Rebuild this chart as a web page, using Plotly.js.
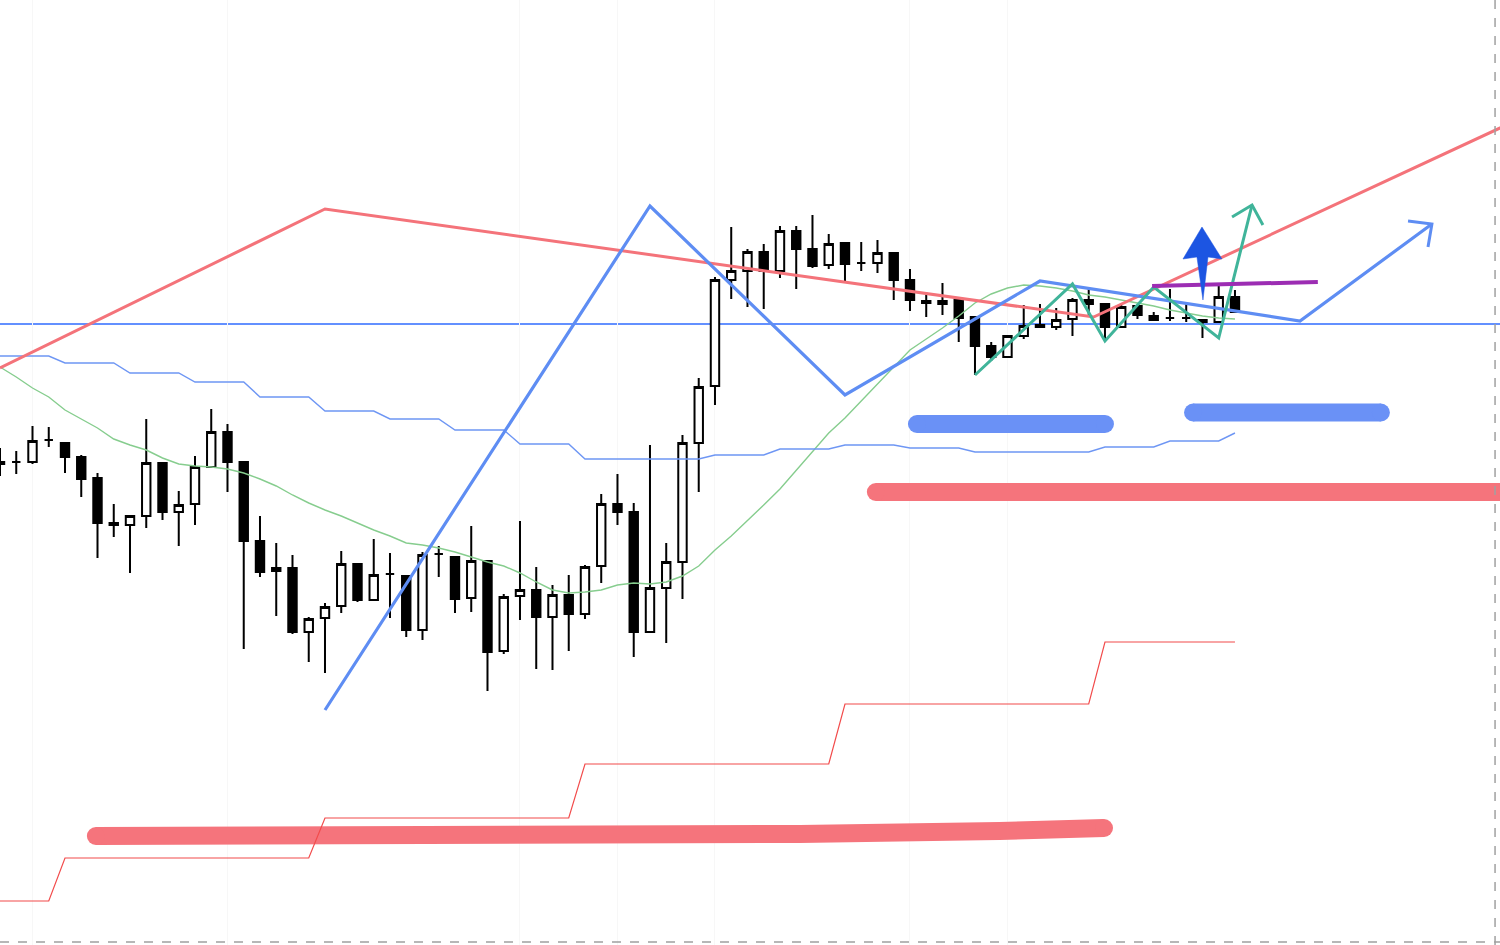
<!DOCTYPE html>
<html><head><meta charset="utf-8">
<script src="https://cdn.plot.ly/plotly-3.0.1.min.js"></script>
<style>html,body{margin:0;padding:0;background:#fff}#chart{width:1500px;height:945px}</style>
</head><body><div id="chart"></div>
<script>
// Candle positions (bar number)
const bars = Array.from({length: 77}, (_, i) => i);

const openP  = [155.38,155.38,155.38,155.60,155.57,155.43,155.22,154.77,154.75,154.84,155.37,154.88,154.96,155.33,155.68,155.38,154.59,154.29,154.32,153.68,153.82,153.94,154.36,154.00,154.26,154.24,153.70,154.46,154.43,154.02,154.39,153.49,154.04,154.10,153.83,154.05,153.86,154.34,154.96,154.88,153.68,154.12,154.38,155.57,156.14,157.20,157.29,157.48,157.29,157.69,157.51,157.35,157.57,157.37,157.37,157.47,157.20,156.99,156.96,157.00,156.83,156.54,156.43,156.64,156.75,156.73,156.81,157.00,156.96,156.73,156.94,156.84,156.82,156.82,156.80,156.78,157.03];
const highP  = [155.52,155.49,155.74,155.73,155.57,155.45,155.27,154.96,154.85,155.81,155.37,155.09,155.44,155.91,155.76,155.38,154.84,154.57,154.45,153.83,153.97,154.49,154.37,154.61,154.47,154.24,154.48,154.54,154.43,154.74,154.39,154.06,154.79,154.33,154.15,154.25,154.35,155.06,155.26,154.97,155.55,154.57,155.65,156.22,157.23,157.73,157.51,157.56,157.74,157.74,157.85,157.66,157.58,157.58,157.60,157.48,157.31,157.08,157.17,157.00,156.83,156.58,156.65,156.95,156.96,156.92,157.02,157.13,156.96,156.96,156.94,156.88,157.11,156.96,156.80,157.14,157.10];
const lowP   = [155.24,155.26,155.36,155.53,155.27,155.03,154.42,154.63,154.27,154.72,154.80,154.54,154.75,155.33,155.08,153.51,154.23,153.84,153.66,153.38,153.27,153.87,153.98,154.00,153.82,153.63,153.60,154.23,153.87,153.88,153.09,153.46,153.80,153.31,153.30,153.49,153.81,154.17,154.75,153.43,153.68,153.57,154.01,155.08,155.95,157.01,156.93,156.91,157.22,157.11,157.32,157.31,157.18,157.29,157.27,157.00,156.89,156.83,156.85,156.58,156.25,156.39,156.42,156.61,156.73,156.70,156.64,156.83,156.61,156.73,156.81,156.80,156.79,156.78,156.62,156.78,156.88];
const closeP = [155.36,155.38,155.59,155.60,155.43,155.21,154.77,154.75,154.84,155.37,154.88,154.95,155.33,155.68,155.38,154.59,154.28,154.32,153.68,153.81,153.93,154.36,154.00,154.25,154.26,153.70,154.45,154.46,154.01,154.39,153.48,154.03,154.10,153.83,154.05,153.86,154.33,154.96,154.88,153.68,154.12,154.38,155.57,156.13,157.20,157.29,157.48,157.29,157.69,157.51,157.34,157.56,157.36,157.37,157.47,157.20,157.00,156.97,156.99,156.82,156.54,156.43,156.64,156.74,156.73,156.80,157.00,156.96,156.73,156.93,156.85,156.80,156.82,156.82,156.78,157.03,156.88];

// Moving average (green), per bar
const maGreen = [156.33,156.23,156.12,156.03,155.90,155.81,155.72,155.61,155.55,155.50,155.42,155.36,155.34,155.33,155.31,155.27,155.21,155.14,155.05,154.97,154.90,154.84,154.77,154.70,154.64,154.57,154.55,154.52,154.48,154.43,154.38,154.34,154.27,154.18,154.10,154.07,154.08,154.10,154.15,154.17,154.16,154.18,154.24,154.34,154.50,154.64,154.79,154.95,155.11,155.30,155.49,155.67,155.82,155.99,156.17,156.34,156.50,156.61,156.72,156.84,156.97,157.06,157.12,157.15,157.14,157.12,157.09,157.05,157.03,157.00,156.97,156.94,156.90,156.87,156.84,156.82,156.81];

// Higher-timeframe step levels, per bar
const blueStep = [156.44,156.44,156.44,156.44,156.37,156.37,156.37,156.37,156.27,156.27,156.27,156.27,156.18,156.18,156.18,156.18,156.03,156.03,156.03,156.03,155.89,155.89,155.89,155.89,155.81,155.81,155.81,155.81,155.70,155.70,155.70,155.70,155.56,155.56,155.56,155.56,155.41,155.41,155.41,155.41,155.41,155.41,155.41,155.41,155.45,155.45,155.45,155.45,155.51,155.51,155.51,155.51,155.55,155.55,155.55,155.55,155.52,155.52,155.52,155.52,155.48,155.48,155.48,155.48,155.48,155.48,155.48,155.48,155.53,155.53,155.53,155.53,155.59,155.59,155.59,155.59,155.67];
const redStep  = [150.99,150.99,150.99,150.99,151.42,151.42,151.42,151.42,151.42,151.42,151.42,151.42,151.42,151.42,151.42,151.42,151.42,151.42,151.42,151.42,151.82,151.82,151.82,151.82,151.82,151.82,151.82,151.82,151.82,151.82,151.82,151.82,151.82,151.82,151.82,151.82,152.36,152.36,152.36,152.36,152.36,152.36,152.36,152.36,152.36,152.36,152.36,152.36,152.36,152.36,152.36,152.36,152.96,152.96,152.96,152.96,152.96,152.96,152.96,152.96,152.96,152.96,152.96,152.96,152.96,152.96,152.96,152.96,153.58,153.58,153.58,153.58,153.58,153.58,153.58,153.58,153.58];

// Drawn analysis lines (bar, price)
const levelLine = 156.76;
const redTrendX = [0, 20, 67.3, 93.5];
const redTrendY = [156.32, 157.91, 156.83, 158.81];
const blueZigX = [20, 40, 52, 64, 80, 88.12];
const blueZigY = [152.90, 157.94, 156.05, 157.19, 156.79, 157.76];
const blueHeadX = [86.65, 88.12, 87.88];
const blueHeadY = [157.79, 157.76, 157.53];
const tealX = [60, 66, 68, 71, 75, 77.05];
const tealY = [156.25, 157.16, 156.59, 157.13, 156.62, 157.95];
const tealHeadX = [75.82, 77.05, 77.72];
const tealHeadY = [157.83, 157.95, 157.75];
const purpleX = [70.9, 81.1];
const purpleY = [157.14, 157.18];
const upArrowX = [73.97, 75.2, 74.34, 74.03, 73.66, 72.8, 73.97];
const upArrowY = [157.73, 157.41, 157.43, 157.00, 157.43, 157.41, 157.73];
const blueZone1X = [56.43, 68.0];
const blueZone1Y = [155.76, 155.76];
const blueZone2X = [73.42, 84.98];
const blueZone2Y = [155.875, 155.875];
const redZoneTopX = [53.9, 93.5];
const redZoneTopY = [155.08, 155.08];
const redZoneLowX = [5.9, 30.8, 49.2, 61.5, 67.94];
const redZoneLowY = [151.64, 151.64, 151.66, 151.69, 151.72];
const gridBars = [2, 14, 32, 38, 44, 56, 62];

function line(x, y, color, width, extra) {
  return Object.assign({type: 'scatter', mode: 'lines', x: x, y: y,
    line: {color: color, width: width}, hoverinfo: 'skip'}, extra || {});
}
function band(x, y, color, width) {
  // thick stroke plus round dots at both ends (round caps)
  const n = x.length - 1;
  return [
    line(x, y, color, width),
    {type: 'scatter', mode: 'markers', x: [x[0], x[n]], y: [y[0], y[n]],
     marker: {color: color, size: width, opacity: 1, line: {width: 0}}, hoverinfo: 'skip'}
  ];
}

const traces = [
  ...band(blueZone1X, blueZone1Y, '#6A91F6', 18),
  ...band(blueZone2X, blueZone2Y, '#6A91F6', 18),
  ...band(redZoneTopX, redZoneTopY, '#F5747C', 18),
  ...band(redZoneLowX, redZoneLowY, '#F5747C', 18),
  line(bars, maGreen, '#86CD8E', 1.4),
  line(bars, blueStep, '#6E96F4', 1.4),
  line(bars, redStep, '#F24B4B', 1.2),
  {
    type: 'candlestick', x: bars, open: openP, high: highP, low: lowP, close: closeP,
    increasing: {line: {color: '#000000', width: 2}, fillcolor: '#ffffff'},
    decreasing: {line: {color: '#000000', width: 2}, fillcolor: '#000000'},
    whiskerwidth: 0, hoverinfo: 'skip'
  },
  line(redTrendX, redTrendY, '#F4737A', 3),
  line(blueZigX, blueZigY, '#5E8DF3', 3.2),
  line(blueHeadX, blueHeadY, '#5E8DF3', 3),
  line(tealX, tealY, '#40B49A', 3),
  line(tealHeadX, tealHeadY, '#40B49A', 3),
  line(purpleX, purpleY, '#9C2DB3', 4),
  line(upArrowX, upArrowY, '#1C55E2', 0.5, {fill: 'toself', fillcolor: '#1C55E2'})
];

const layout = {
  width: 1500, height: 945,
  margin: {l: 0, r: 0, t: 0, b: 0},
  paper_bgcolor: '#ffffff', plot_bgcolor: '#ffffff',
  showlegend: false,
  boxgap: 0.26,
  xaxis: {range: [0, 92.31], rangeslider: {visible: false}, showticklabels: false,
    tickvals: gridBars, showgrid: true, gridcolor: '#f7f7f7', gridwidth: 1,
    zeroline: false, showline: false, ticks: ''},
  yaxis: {range: [150.55, 160], showticklabels: false, showgrid: false, zeroline: false, showline: false, ticks: ''},
  shapes: [
    {type: 'line', xref: 'paper', x0: 0, x1: 1, yref: 'y', y0: levelLine, y1: levelLine,
     line: {color: '#2F6BFF', width: 1.3}, layer: 'below'},
    {type: 'line', xref: 'paper', x0: 0.9967, x1: 0.9967, yref: 'paper', y0: 0, y1: 1,
     line: {color: '#A0A0A0', width: 1.5, dash: 'dash'}},
    {type: 'line', xref: 'paper', x0: 0, x1: 1, yref: 'paper', y0: 0.0032, y1: 0.0032,
     line: {color: '#A0A0A0', width: 1.5, dash: 'dash'}}
  ]
};

Plotly.newPlot('chart', traces, layout, {staticPlot: true, displayModeBar: false});
</script>
</body></html>
